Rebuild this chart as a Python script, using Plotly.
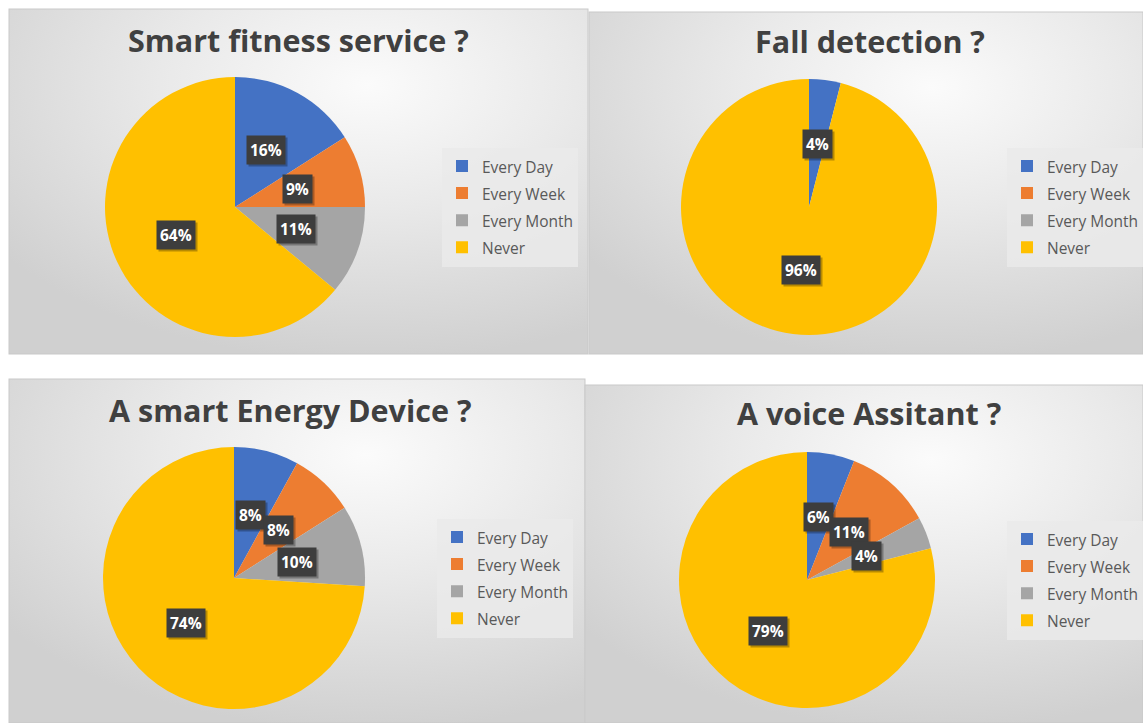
import math
import base64
import plotly.graph_objects as go

W, H = 1143, 723

# ---------------- data ----------------
categories = ["Every Day", "Every Week", "Every Month", "Never"]
fitness_values = [16, 9, 11, 64]
fall_values = [4, 0, 0, 96]
energy_values = [8, 8, 10, 74]
voice_values = [6, 11, 4, 79]
titles = ["Smart fitness service ?", "Fall detection ?",
          "A smart Energy Device ?", "A voice Assitant ?"]
series = [fitness_values, fall_values, energy_values, voice_values]

colors = ["#4472C4", "#ED7D31", "#A5A5A5", "#FFC000"]

# ---------------- layout (pixel boxes) ----------------
# panel boxes: x0, y0, x1, y1 (pixels from top-left)
panels = [(9, 9, 588, 354), (589, 12, 1143, 354),
          (9, 379, 585, 723), (585, 385, 1143, 723)]
# pie boxes: x0, y0(top), x1, y1(bottom)
pie_boxes = [(105, 77, 365, 337), (681, 79, 937, 335),
             (103, 447, 365, 709), (679, 452, 935, 708)]
title_pos = [(298, 40), (870, 41), (290, 410), (869, 413)]
legend_pos = [(442, 207), (1007, 207), (437, 578), (1007, 580)]

# ---------------- background svg ----------------
svg = [f'<svg xmlns="http://www.w3.org/2000/svg" width="{W}" height="{H}" viewBox="0 0 {W} {H}">', '<defs>']
for i, (x0, y0, x1, y1) in enumerate(panels):
    svg.append(
        f'<radialGradient id="g{i}" cx="0.62" cy="0.22" r="0.8" fx="0.62" fy="0.22">'
        '<stop offset="0" stop-color="#fbfbfb"/>'
        '<stop offset="0.45" stop-color="#e9e9e9"/>'
        '<stop offset="1" stop-color="#d0d0d0"/>'
        '</radialGradient>')
svg.append('</defs>')
svg.append(f'<rect x="0" y="0" width="{W}" height="{H}" fill="#ffffff"/>')
for i, (x0, y0, x1, y1) in enumerate(panels):
    svg.append(f'<rect x="{x0}" y="{y0}" width="{x1 - x0}" height="{y1 - y0}" '
               f'fill="url(#g{i})" stroke="#c9c9c9" stroke-width="1"/>')
svg.append('</svg>')
svg_uri = "data:image/svg+xml;base64," + base64.b64encode("".join(svg).encode()).decode()

fig = go.Figure()

legend_names = ["legend", "legend2", "legend3", "legend4"]
annotations = []
for k, vals in enumerate(series):
    px0, py0, px1, py1 = pie_boxes[k]
    dom_x = [px0 / W, px1 / W]
    dom_y = [1 - py1 / H, 1 - py0 / H]
    fig.add_trace(go.Pie(
        labels=[f'<span style="font-size:15.5px">{c}</span>' for c in categories],
        values=vals,
        sort=False,
        direction="clockwise",
        rotation=0,
        marker=dict(colors=colors, line=dict(width=0)),
        textinfo="none",
        domain=dict(x=dom_x, y=dom_y),
        legend=legend_names[k],
        legendgroup=f"grp{k}",
        showlegend=True,
        hoverinfo="label+percent",
    ))
    # label positions (half radius along mid angle), computed from data
    cx = (px0 + px1) / 2
    cy = (py0 + py1) / 2
    r = min(px1 - px0, py1 - py0) / 2
    total = sum(vals)
    cum = 0.0
    for v in vals:
        if v > 0:
            mid = (cum + v / 2) / total * 2 * math.pi
            lx = cx + 0.5 * r * math.sin(mid)
            ly = cy - 0.5 * r * math.cos(mid)
            txt = f"{round(v / total * 100)}%"
            for shadow in (True, False):
                annotations.append(dict(
                    x=lx / W, y=1 - ly / H, xref="paper", yref="paper",
                    xanchor="center", yanchor="middle",
                    text=f"<b>{txt}</b>", showarrow=False,
                    font=dict(family="Open Sans", size=15.5,
                              color="rgba(0,0,0,0)" if shadow else "white"),
                    bgcolor="rgba(0,0,0,0.28)" if shadow else "#3d3d3d",
                    borderpad=3,
                    xshift=2 if shadow else 0, yshift=-2 if shadow else 0,
                ))
        cum += v
    # title
    tx, ty = title_pos[k]
    annotations.append(dict(
        x=tx / W, y=1 - ty / H, xref="paper", yref="paper",
        text=titles[k], showarrow=False,
        font=dict(family="Open Sans", size=30.5, color="#404040", weight=700),
        xanchor="center", yanchor="middle",
    ))

legend_common = dict(
    bgcolor="rgba(234,234,234,0.85)",
    font=dict(family="Open Sans", size=18.5, color="#595959"),
    xanchor="left", yanchor="middle",
    borderwidth=0,
)
leg_layout = {}
for k, name in enumerate(legend_names):
    lx, ly = legend_pos[k]
    leg_layout[name] = dict(x=lx / W, y=1 - ly / H, **legend_common)

fig.update_layout(
    width=W, height=H,
    margin=dict(l=0, r=0, t=0, b=0, autoexpand=False),
    paper_bgcolor="white",
    plot_bgcolor="white",
    annotations=annotations,
    images=[dict(source=svg_uri, xref="paper", yref="paper", x=0, y=1,
                 sizex=1, sizey=1, xanchor="left", yanchor="top",
                 sizing="stretch", layer="below")],
    **leg_layout,
)

fig.write_html("out.html", config={"displayModeBar": False},
               post_script="document.body.style.margin='0';document.body.style.overflow='hidden';")
